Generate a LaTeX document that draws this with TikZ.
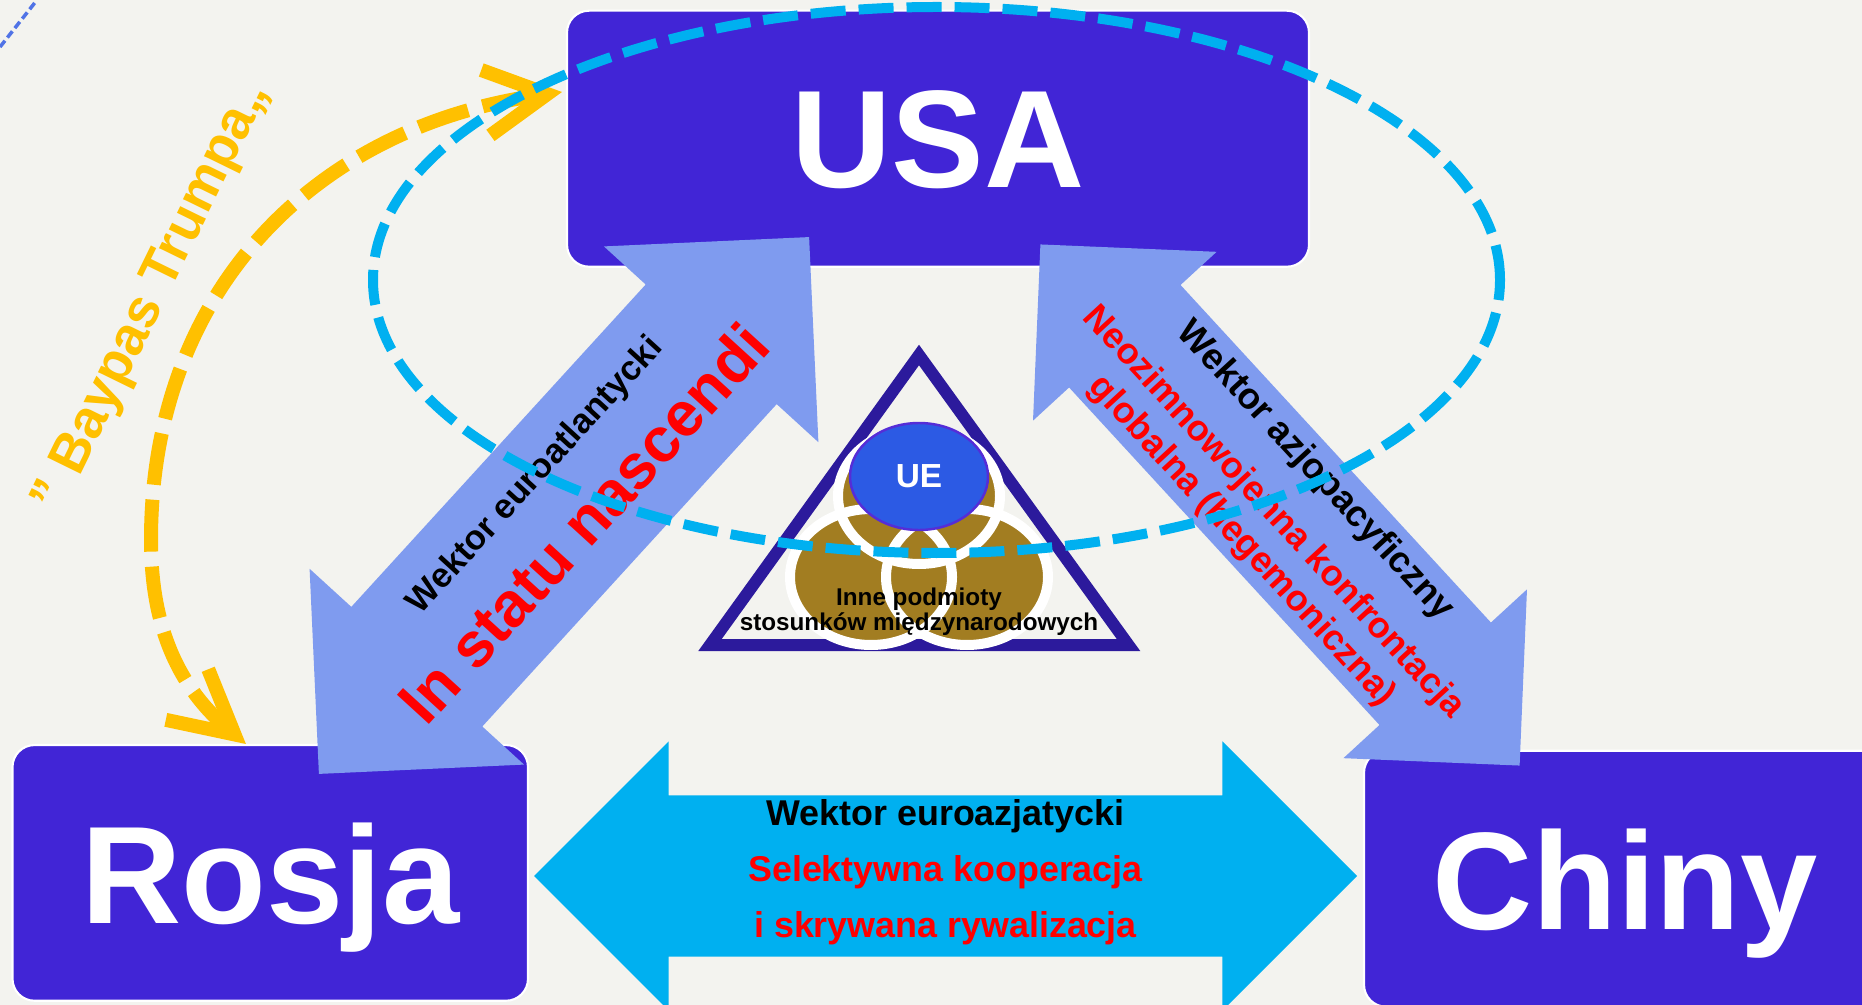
\documentclass[tikz,border=0pt]{standalone}
\usepackage{fontspec}
\setmainfont{Liberation Sans}
\usetikzlibrary{positioning, shapes.geometric, shapes.arrows, arrows.meta, calc}

\begin{document}
\begin{tikzpicture}[
  every node/.style={font=\bfseries},
  country/.style={rectangle, rounded corners=0.22cm, fill=countryBlue, draw=white, line width=0.6pt,
    text=white, text depth=0pt, inner sep=0pt, font=\bfseries\fontsize{39.5}{41}\selectfont},
  vector/.style={double arrow, double arrow tip angle=90, inner xsep=0pt},
  bypass/.style={draw=bypassYellow, line width=0.14cm, dash pattern=on 0.52cm off 0.15cm,
    >={Straight Barb[length=0.62cm, width=0.66cm]}, <->},
  orbit/.style={draw=cyanBlue, line width=0.1cm, dash pattern=on 0.35cm off 0.13cm}
]
  \definecolor{paper}{RGB}{243,243,239}
  \definecolor{countryBlue}{RGB}{65,37,214}
  \definecolor{vectorBlue}{RGB}{127,155,239}
  \definecolor{cyanBlue}{RGB}{0,176,240}
  \definecolor{bypassYellow}{RGB}{255,192,0}
  \definecolor{triNavy}{RGB}{44,26,156}
  \definecolor{gold}{RGB}{162,125,33}
  \definecolor{ueBlue}{RGB}{44,90,228}
  \definecolor{uePurple}{RGB}{85,45,215}
  \definecolor{cornerLine}{RGB}{80,115,230}

  \pgfmathsetmacro{\atlAngle}{47.6};
  \pgfmathsetmacro{\pacAngle}{-47.4};

  \useasboundingbox[fill=paper] (0,0) rectangle (18.62,-10.05);

  \draw[cornerLine, line width=1pt, dash pattern=on 0.08cm off 0.04cm] (0,-0.47) -- (0.37,0);

  \node[country, minimum width=7.42cm, minimum height=2.56cm] (usa) at (9.38,-1.387) {USA};
  \node[country, minimum width=5.155cm, minimum height=2.557cm] (rosja) at (2.7025,-8.729) {Rosja};
  \node[country, minimum width=5.22cm, minimum height=2.56cm] (chiny) at (16.25,-8.787) {Chiny};

  \node[vector, fill=vectorBlue, minimum height=7.27cm, inner ysep=0.88cm,
    double arrow head extend=0.565cm, rotate=\atlAngle] (atlantic) at (5.64,-5.055) {};
  \node[vector, fill=vectorBlue, minimum height=7.08cm, inner ysep=0.75cm,
    double arrow head extend=0.49cm, rotate=\pacAngle] (pacific) at (12.80,-5.05) {};
  \node[vector, fill=cyanBlue, minimum height=8.23cm, inner ysep=0.80cm,
    double arrow head extend=0.54cm] (eurasia) at (9.455,-8.76) {};

  \begin{scope}[shift={(atlantic.center)}, rotate=\atlAngle, transform shape]
    \node[font=\bfseries\fontsize{9.85}{11}\selectfont] (atlName) at (0.026,0.409) {Wektor euroatlantycki};
    \node[text=red, font=\bfseries\fontsize{17.9}{20}\selectfont] (atlState) at (0,-0.26) {In statu nascendi};
  \end{scope}
  \begin{scope}[shift={(pacific.center)}, rotate=\pacAngle, transform shape]
    \node[font=\bfseries\fontsize{10.4}{12}\selectfont] (pacName) at (-0.013,0.488) {Wektor azjopacyficzny};
    \node[text=red, align=center, font=\bfseries\fontsize{10.3}{12.1}\selectfont] (pacState) at (0.01,-0.317)
      {Neozimnowojenna konfrontacja\\globalna (hegemoniczna)};
  \end{scope}
  \node[align=center, font=\bfseries\fontsize{10.2}{16}\selectfont, yshift=0.4mm] (eurasiaText) at (eurasia.center)
    {Wektor euroazjatycki\\\textcolor{red}{Selektywna kooperacja}\\\textcolor{red}{i skrywana rywalizacja}};

  \draw[triNavy, line width=0.12cm, line join=miter] (9.19,-3.55) -- (7.10,-6.45) -- (11.285,-6.45) -- cycle;
  \foreach \cx/\cy in {9.19/-4.96, 8.71/-5.77, 9.67/-5.77}{
    \fill[gold] (\cx,\cy) ellipse [x radius=0.81, y radius=0.68];
  }
  \foreach \cx/\cy in {9.19/-4.96, 8.71/-5.77, 9.67/-5.77}{
    \draw[white, line width=0.1cm] (\cx,\cy) ellipse [x radius=0.81, y radius=0.68];
  }
  \node[ellipse, fill=ueBlue, draw=uePurple, line width=0.7pt, minimum width=1.38cm, minimum height=1.07cm,
    inner sep=0pt, text=white, font=\bfseries\fontsize{9.5}{10}\selectfont] (ue) at (9.19,-4.765) {UE};
  \node[align=center, font=\bfseries\fontsize{6.9}{7.2}\selectfont] (others) at (9.19,-6.12)
    {Inne podmioty\\stosunków międzynarodowych};

  \coordinate (bypassTop) at (5.62,-0.92);
  \coordinate (bypassMid) at (1.51,-5.40);
  \coordinate (bypassEnd) at ($(rosja.north west)!0.453!(rosja.north east)$);
  \draw[bypass] (bypassEnd) to[out=140, in=270] (bypassMid) to[out=90, in=188, looseness=1.05] (bypassTop);
  \node[text=bypassYellow, rotate=63.9, font=\bfseries\fontsize{15.4}{17}\selectfont] (bypassName)
    at (1.53,-2.98) {” Baypas Trumpa„};

  \draw[orbit] (9.365,-2.80) ellipse [x radius=5.635, y radius=2.73];
\end{tikzpicture}
\end{document}
